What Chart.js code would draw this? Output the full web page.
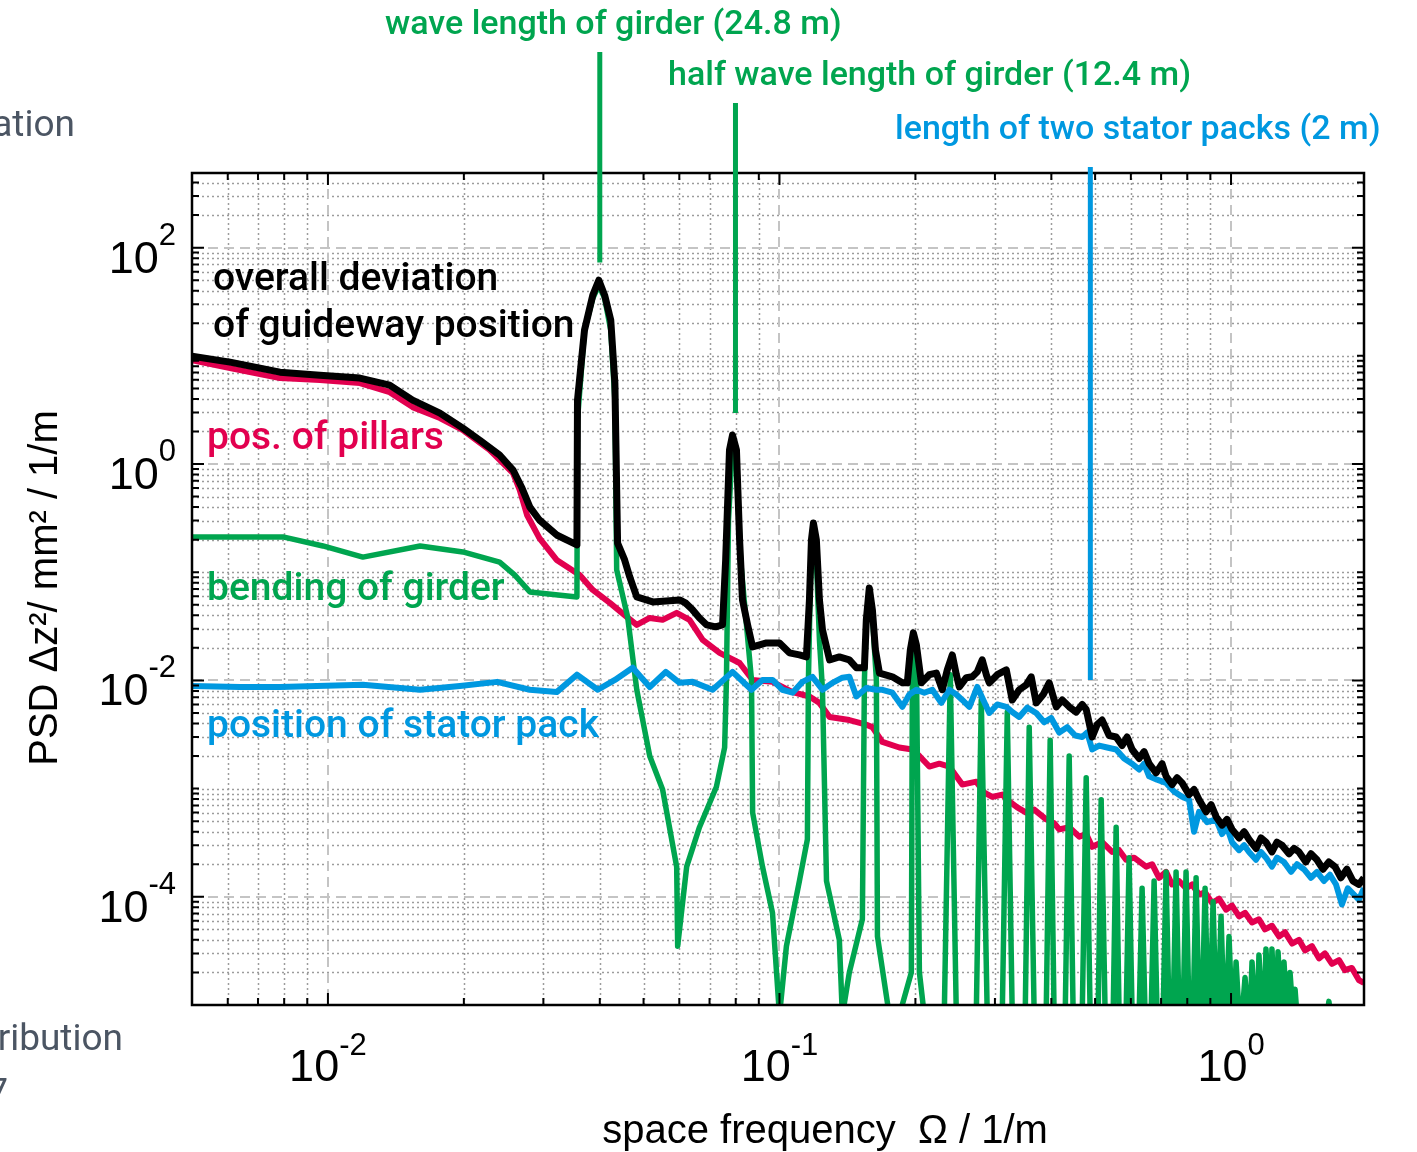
<!DOCTYPE html>
<html>
<head>
<meta charset="utf-8">
<title>PSD of guideway position</title>
<script src="https://cdn.jsdelivr.net/npm/chart.js@4.4.1/dist/chart.umd.min.js"></script>
<style>
  html, body { margin: 0; padding: 0; background: #fff; }
  #box { width: 1417px; height: 1152px; }
</style>
</head>
<body>
<div id="box"><canvas id="psd" width="1417" height="1152"></canvas></div>
<script>
// space frequency in 1/m, PSD in mm^2 / (1/m)
const freqBlack = [0.0050, 0.00607, 0.00783, 0.0096, 0.01177, 0.0137, 0.0154, 0.0177, 0.0199, 0.0217,
  0.0240, 0.0257, 0.0269, 0.0280, 0.0294, 0.0321, 0.0356, 0.0357, 0.0370, 0.0386,
  0.0398, 0.0410, 0.0423, 0.0432, 0.0438, 0.0454, 0.0466, 0.0483, 0.0524, 0.0601,
  0.0619, 0.0642, 0.0665, 0.0690, 0.0722, 0.0748, 0.0760, 0.0775, 0.0787, 0.0803,
  0.0816, 0.0828, 0.0850, 0.0872, 0.0936, 0.1000, 0.1052, 0.1107, 0.1147, 0.1165,
  0.1177, 0.1189, 0.1207, 0.1226, 0.1245, 0.1291, 0.1357, 0.1428, 0.1480, 0.1542,
  0.1557, 0.1581, 0.1606, 0.1631, 0.1665, 0.1778, 0.1871, 0.1919, 0.1949, 0.1979,
  0.2010, 0.2062, 0.2147, 0.2225, 0.2294, 0.2353, 0.2414, 0.2464, 0.2502, 0.2593,
  0.2673, 0.2742, 0.2812, 0.2871, 0.2915, 0.3036, 0.3179, 0.3277, 0.3396, 0.3519,
  0.3610, 0.3703, 0.3837, 0.3956, 0.4101, 0.4228, 0.4381, 0.4541, 0.4682, 0.4778,
  0.4926, 0.5052, 0.5183, 0.5371, 0.5566, 0.5738, 0.5886, 0.6039, 0.6258, 0.6419,
  0.6585, 0.6824, 0.7036, 0.7180, 0.7403, 0.7594, 0.7790, 0.8073, 0.8282, 0.8496,
  0.8805, 0.9032, 0.9265, 0.9552, 0.9798, 1.005, 1.042, 1.069, 1.096, 1.136,
  1.165, 1.195, 1.232, 1.264, 1.297, 1.344, 1.379, 1.414, 1.465, 1.503,
  1.550, 1.598, 1.647, 1.699, 1.751, 1.805, 1.862, 1.919, 1.969];
const psdBlack = [9.94, 8.75, 7.07, 6.63, 6.23, 5.36, 3.90, 2.96, 2.15, 1.66,
  1.21, 0.88, 0.60, 0.40, 0.304, 0.221, 0.179, 3.90, 17.3, 36.4,
  50, 36.4, 21.4, 5.60, 0.186, 0.130, 0.0905, 0.0591, 0.0532, 0.0555,
  0.0521, 0.0449, 0.0378, 0.0326, 0.0313, 0.0326, 0.130, 1.35, 1.85, 1.35,
  0.199, 0.0555, 0.0326, 0.0204, 0.0222, 0.0222, 0.0180, 0.0172, 0.0165, 0.0555,
  0.199, 0.285, 0.199, 0.0555, 0.0293, 0.0155, 0.0165, 0.0155, 0.0131, 0.0131,
  0.0363, 0.0716, 0.0449, 0.0192, 0.0117, 0.0108, 0.0095, 0.0095, 0.0192, 0.0275,
  0.0213, 0.0095, 0.0113, 0.0117, 0.0082, 0.0125, 0.0172, 0.0113, 0.0087, 0.0106,
  0.0108, 0.0120, 0.0155, 0.0113, 0.0095, 0.0113, 0.0125, 0.0066, 0.0082, 0.0091,
  0.0108, 0.0062, 0.0074, 0.0095, 0.0057, 0.0066, 0.0057, 0.0051, 0.0060, 0.0054,
  0.0030, 0.0039, 0.0043, 0.0031, 0.0030, 0.0025, 0.0030, 0.0023, 0.0019, 0.0022,
  0.0017, 0.0014, 0.0017, 0.0013, 0.00109, 0.00126, 0.00113, 0.00088, 0.00098, 0.00079,
  0.00061, 0.00071, 0.00055, 0.00046, 0.00052, 0.00042, 0.00035, 0.00040, 0.00034, 0.00028,
  0.00035, 0.00032, 0.00026, 0.00032, 0.00030, 0.00025, 0.00028, 0.00026, 0.00021, 0.00025,
  0.00022, 0.00018, 0.00021, 0.00019, 0.00015, 0.00018, 0.00014, 0.00013, 0.00015];

const freqRed = [0.0050, 0.00607, 0.00783, 0.0096, 0.01177, 0.0137, 0.0154, 0.0177, 0.0199, 0.0228,
  0.0257, 0.0266, 0.0276, 0.0294, 0.0321, 0.0361, 0.0386, 0.0421, 0.0459, 0.0483,
  0.0516, 0.0551, 0.0592, 0.0632, 0.0676, 0.0737, 0.0816, 0.0872, 0.0965, 0.1069,
  0.1165, 0.1226, 0.1291, 0.1428, 0.1557, 0.1606, 0.1690, 0.1842, 0.1969, 0.2041,
  0.2147, 0.2259, 0.2377, 0.2540, 0.2728, 0.2841, 0.2960, 0.3114, 0.3228, 0.3362,
  0.3519, 0.3665, 0.3896, 0.4057, 0.4164, 0.4381, 0.4611, 0.4778, 0.4926, 0.5183,
  0.5454, 0.5651, 0.5856, 0.6100, 0.6485, 0.6687, 0.6929, 0.7180, 0.7403, 0.7672,
  0.7950, 0.8198, 0.8496, 0.8760, 0.9078, 0.9407, 0.9748, 1.005, 1.042, 1.074,
  1.113, 1.153, 1.189, 1.232, 1.277, 1.317, 1.365, 1.414, 1.458, 1.511,
  1.566, 1.614, 1.673, 1.734, 1.787, 1.852, 1.919, 1.969];
const psdRed = [9.13, 7.70, 6.23, 5.97, 5.60, 4.62, 3.36, 2.66, 2.06, 1.35,
  0.826, 0.575, 0.338, 0.207, 0.130, 0.0944, 0.0686, 0.0521, 0.0387, 0.0326,
  0.0378, 0.0363, 0.0421, 0.0363, 0.0237, 0.0180, 0.0145, 0.0101, 0.0097, 0.0078,
  0.0071, 0.0062, 0.0046, 0.0043, 0.0039, 0.0037, 0.0027, 0.0024, 0.0023, 0.0020,
  0.0016, 0.0017, 0.0016, 0.00109, 0.00116, 0.00092, 0.00084, 0.00088, 0.00076, 0.00067,
  0.00060, 0.00064, 0.00052, 0.00048, 0.00042, 0.00044, 0.00036, 0.00038, 0.00029, 0.00032,
  0.00026, 0.00027, 0.00022, 0.00023, 0.00019, 0.00020, 0.00015, 0.00017, 0.00013, 0.00014,
  0.00012, 0.00013, 0.000105, 0.00011, 0.000088, 0.000096, 0.000076, 0.000083, 0.000066, 0.000071,
  0.000058, 0.000062, 0.000050, 0.000054, 0.000043, 0.000047, 0.000037, 0.000040, 0.000032, 0.000035,
  0.000027, 0.000030, 0.000024, 0.000026, 0.000021, 0.000022, 0.000017, 0.000016];

const freqGreen = [0.0050, 0.00795, 0.00975, 0.01195, 0.0160, 0.0199, 0.0240, 0.0259, 0.0280, 0.0356,
  0.0357, 0.0370, 0.0386, 0.0398, 0.0410, 0.0423, 0.0432, 0.0436, 0.0461, 0.0483,
  0.0516, 0.0551, 0.0592, 0.0595, 0.0623, 0.0665, 0.0725, 0.0756, 0.0763, 0.0771,
  0.0787, 0.0803, 0.0820, 0.0867, 0.0872, 0.0917, 0.0965, 0.1000, 0.1036, 0.1107,
  0.1153, 0.1159, 0.1171, 0.1189, 0.1207, 0.1226, 0.1245, 0.1271, 0.1357, 0.1378,
  0.1428, 0.1526, 0.1542, 0.1557, 0.1581, 0.1606, 0.1639, 0.1648, 0.1751, 0.1842,
  0.1959, 0.1969, 0.1979, 0.2010, 0.2041, 0.2093,
  0.2317, 0.2389, 0.2464, 0.2728, 0.2798, 0.2885, 0.3114, 0.3195, 0.3277,
  0.3501, 0.3573, 0.3665, 0.3896, 0.3976, 0.4057, 0.4293, 0.4381, 0.4471,
  0.4682, 0.4778, 0.4876, 0.5078, 0.5157, 0.5263, 0.5482, 0.5566, 0.5651,
  0.5856, 0.5946, 0.6039, 0.6258, 0.6354, 0.6452, 0.6653, 0.6755, 0.6859,
  0.7072, 0.7180, 0.7291, 0.7441, 0.7556, 0.7672, 0.7830, 0.7950, 0.8073,
  0.8240, 0.8368, 0.8496, 0.8627, 0.8760, 0.8894, 0.8985, 0.9125, 0.9265,
  0.9359, 0.9503, 0.9650, 0.9748, 0.9899, 1.005, 1.015, 1.026, 1.042,
  1.058, 1.074, 1.090, 1.102, 1.113, 1.130, 1.142, 1.153, 1.171,
  1.183, 1.195, 1.214, 1.220, 1.232, 1.251, 1.258, 1.271, 1.290,
  1.297, 1.310, 1.330, 1.337, 1.351, 1.372, 1.379, 1.386, 1.400,
  1.631, 1.647, 1.664, 1.969];
const psdGreen = [0.212, 0.212, 0.175, 0.138, 0.175, 0.154, 0.124, 0.0944, 0.0658, 0.0591,
  2.55, 17.3, 34.1, 44.9, 34.1, 17.3, 3.90, 0.105, 0.0387, 0.0082,
  0.0020, 0.00098, 0.00019, 0.000035, 0.00019, 0.00044, 0.00104, 0.0024, 0.0101, 0.304,
  1.50, 1.09, 0.130, 0.0101, 0.00060, 0.00019, 0.000071, 8e-6, 0.000035, 0.00014,
  0.00034, 0.0101, 0.0849, 0.246, 0.130, 0.0237, 0.0082, 0.00014, 0.000040, 8e-6,
  0.000020, 0.000062, 0.0101, 0.0363, 0.0617, 0.0403, 0.0101, 0.000043, 8e-6, 8e-6,
  0.000020, 0.0101, 0.0237, 0.0155, 0.000020, 8e-6,
  8e-6, 0.0113, 8e-6, 8e-6, 0.0066, 8e-6, 8e-6, 0.0051, 8e-6,
  8e-6, 0.0037, 8e-6, 8e-6, 0.0028, 8e-6, 8e-6, 0.0020, 8e-6,
  8e-6, 0.00126, 8e-6, 8e-6, 0.00079, 8e-6, 8e-6, 0.00044, 8e-6,
  8e-6, 0.00023, 8e-6, 8e-6, 0.00012, 8e-6, 8e-6, 0.00014, 8e-6,
  8e-6, 0.00017, 8e-6, 8e-6, 0.00017, 8e-6, 8e-6, 0.00017, 8e-6,
  8e-6, 0.00015, 8e-6, 8e-6, 0.00012, 8e-6, 8e-6, 0.000090, 8e-6,
  8e-6, 0.000066, 8e-6, 8e-6, 0.000043, 8e-6, 8e-6, 0.000025, 8e-6,
  8e-6, 0.000018, 8e-6, 8e-6, 0.000025, 8e-6, 8e-6, 0.000029, 8e-6,
  8e-6, 0.000033, 8e-6, 8e-6, 0.000033, 8e-6, 8e-6, 0.000031, 8e-6,
  8e-6, 0.000025, 8e-6, 8e-6, 0.000020, 8e-6, 8e-6, 0.000014, 8e-6,
  8e-6, 0.0000108, 8e-6, 8e-6];

const freqBlue = [0.0050, 0.00639, 0.00783, 0.01195, 0.0160, 0.0196, 0.0237, 0.0280, 0.0321, 0.0356,
  0.0396, 0.0432, 0.0473, 0.0516, 0.0560, 0.0601, 0.0642, 0.0711, 0.0787, 0.0867,
  0.0917, 0.0965, 0.1015, 0.1069, 0.1124, 0.1183, 0.1245, 0.1310, 0.1378, 0.1428,
  0.1480, 0.1557, 0.1639, 0.1690, 0.1778, 0.1871, 0.1939, 0.2010, 0.2093, 0.2180,
  0.2282, 0.2377, 0.2464, 0.2540, 0.2633, 0.2742, 0.2827, 0.2915, 0.3036, 0.3179,
  0.3277, 0.3396, 0.3537, 0.3703, 0.3857, 0.3996, 0.4164, 0.4337, 0.4518, 0.4682,
  0.4802, 0.4926, 0.5105, 0.5317, 0.5566, 0.5797, 0.6039, 0.6258, 0.6419, 0.6585,
  0.6859, 0.7180, 0.7479, 0.7790, 0.8073, 0.8282, 0.8496, 0.8850, 0.9265, 0.9552,
  0.9798, 1.005, 1.042, 1.069, 1.096, 1.136, 1.165, 1.195, 1.232, 1.264,
  1.310, 1.358, 1.400, 1.450, 1.503, 1.550, 1.606, 1.656, 1.708, 1.760,
  1.814, 1.871, 1.919, 1.969];
const psdBlue = [0.0089, 0.0087, 0.0087, 0.0091, 0.0082, 0.0089, 0.0097, 0.0082, 0.0078, 0.0113,
  0.0082, 0.0101, 0.0131, 0.0087, 0.0120, 0.0095, 0.0097, 0.0082, 0.0120, 0.0082,
  0.0101, 0.0101, 0.0082, 0.0077, 0.0097, 0.0108, 0.0082, 0.0095, 0.0106, 0.0108,
  0.0071, 0.0085, 0.0082, 0.0082, 0.0077, 0.0057, 0.0074, 0.0082, 0.0077, 0.0082,
  0.0062, 0.0082, 0.0074, 0.0066, 0.0057, 0.0087, 0.0066, 0.0050, 0.0060, 0.0057,
  0.0051, 0.0046, 0.0056, 0.0050, 0.0041, 0.0045, 0.0033, 0.0037, 0.0031, 0.0030,
  0.0033, 0.0023, 0.0025, 0.0024, 0.0023, 0.0019, 0.0017, 0.0015, 0.0017, 0.0013,
  0.00121, 0.00113, 0.00094, 0.00084, 0.00079, 0.00040, 0.00061, 0.00049, 0.00052, 0.00038,
  0.00044, 0.00032, 0.00027, 0.00030, 0.00026, 0.00022, 0.00026, 0.00023, 0.00019, 0.00023,
  0.00021, 0.00017, 0.00020, 0.00018, 0.00015, 0.00017, 0.00014, 0.00016, 0.00013, 0.000085,
  0.00012, 0.000105, 0.000094, 0.00012];

// axes
const X_MIN = 0.005, X_MAX = 1.97;
const Y_MIN = 1e-5, Y_MAX = 490;
const xDecades = [0.001, 0.01, 0.1, 1];
const yDecades = [1e-5, 1e-4, 1e-3, 1e-2, 0.1, 1, 10, 100];
const minorSteps = [1, 2, 3, 4, 5, 6, 7, 8, 9];
const xLabelTicks = [0.01, 0.1, 1];
const xLabelExp = ['-2', '-1', '0'];
const yLabelTicks = [1e-4, 1e-2, 1, 100];
const yLabelExp = ['-4', '-2', '0', '2'];

// marker lines: wave length of girder, half wave length, two stator packs
const markerFreq = [0.0400, 0.0799, 0.488];
const markerEndPsd = [73, 2.96, 0.0101];

const GREEN = '#00a54f', RED = '#e2004f', BLUE = '#0098e0', SLIDE = '#4b5563';
const markerColor = [GREEN, GREEN, BLUE];
const markerTop = [52, 103, 167];

function points(fs, vs) { return fs.map((f, i) => ({ x: f, y: vs[i] })); }

function logTicks(decades, lo, hi) {
  const out = [];
  decades.forEach(d => minorSteps.forEach(s => {
    const v = d * s;
    if (v > lo * 1.0001 && v < hi * 0.9999) out.push(v);
  }));
  return out;
}
const isIn = (list, v) => list.some(t => Math.abs(t - v) / t < 1e-6);

const xTicks = logTicks(xDecades, X_MIN, X_MAX);
const yTicks = logTicks(yDecades, Y_MIN, Y_MAX);

function powLabel(ctx, exp, x, baseY, expY, align) {
  ctx.font = '45px "Liberation Sans", Arial, sans-serif';
  const wb = ctx.measureText('10').width;
  ctx.font = '31px "Liberation Sans", Arial, sans-serif';
  const we = ctx.measureText(exp).width;
  const left = align === 'right' ? x - wb - we : x - (wb + we) / 2;
  ctx.textAlign = 'left';
  ctx.font = '45px "Liberation Sans", Arial, sans-serif';
  ctx.fillText('10', left, baseY);
  ctx.font = '31px "Liberation Sans", Arial, sans-serif';
  ctx.fillText(exp, left + wb, expY);
}

function label(ctx, str, x, y, font, color, align) {
  ctx.font = font;
  ctx.fillStyle = color;
  ctx.textAlign = align || 'left';
  ctx.fillText(str, x, y);
}

const matlabAxes = {
  id: 'matlabAxes',
  beforeDatasetsDraw(chart) {
    const { ctx, chartArea: a, scales: { x, y } } = chart;
    ctx.save();
    // minor grid, dotted
    ctx.strokeStyle = '#9c9c9c';
    ctx.lineWidth = 1.5;
    ctx.setLineDash([2, 3]);
    ctx.beginPath();
    xTicks.filter(v => !isIn(xLabelTicks, v)).forEach(v => {
      const p = Math.round(x.getPixelForValue(v)) + 0.5;
      ctx.moveTo(p, a.top); ctx.lineTo(p, a.bottom);
    });
    yTicks.filter(v => !isIn(yLabelTicks, v)).forEach(v => {
      const p = Math.round(y.getPixelForValue(v)) + 0.5;
      ctx.moveTo(a.left, p); ctx.lineTo(a.right, p);
    });
    ctx.stroke();
    // major grid, dashed
    ctx.strokeStyle = '#c4c4c4';
    ctx.lineWidth = 2;
    ctx.setLineDash([10, 6]);
    ctx.beginPath();
    xLabelTicks.forEach(v => {
      const p = Math.round(x.getPixelForValue(v));
      ctx.moveTo(p, a.top); ctx.lineTo(p, a.bottom);
    });
    yLabelTicks.forEach(v => {
      const p = Math.round(y.getPixelForValue(v));
      ctx.moveTo(a.left, p); ctx.lineTo(a.right, p);
    });
    ctx.stroke();
    ctx.restore();
  },
  afterDatasetsDraw(chart) {
    const { ctx, chartArea: a, scales: { x, y } } = chart;
    ctx.save();
    ctx.setLineDash([]);
    ctx.strokeStyle = '#000';
    // inward tick marks on all four sides
    ctx.lineWidth = 2;
    ctx.beginPath();
    xTicks.forEach(v => {
      const p = x.getPixelForValue(v), len = isIn(xLabelTicks, v) ? 12 : 7;
      ctx.moveTo(p, a.bottom); ctx.lineTo(p, a.bottom - len);
      ctx.moveTo(p, a.top); ctx.lineTo(p, a.top + len);
    });
    yTicks.forEach(v => {
      const p = y.getPixelForValue(v), len = isIn(yLabelTicks, v) ? 12 : 7;
      ctx.moveTo(a.left, p); ctx.lineTo(a.left + len, p);
      ctx.moveTo(a.right, p); ctx.lineTo(a.right - len, p);
    });
    ctx.stroke();
    ctx.lineWidth = 2.5;
    ctx.strokeRect(a.left, a.top, a.right - a.left, a.bottom - a.top);

    // tick labels
    ctx.fillStyle = '#000';
    ctx.textBaseline = 'alphabetic';
    xLabelTicks.forEach((v, i) => powLabel(ctx, xLabelExp[i], x.getPixelForValue(v), 1081, 1055, 'center'));
    yLabelTicks.forEach((v, i) => {
      const p = y.getPixelForValue(v);
      powLabel(ctx, yLabelExp[i], 176, p + 25, p - 3, 'right');
    });

    // axis titles
    label(ctx, 'space frequency  \u03A9 / 1/m', 825, 1143, '40px "Liberation Sans", Arial, sans-serif', '#000', 'center');
    ctx.save();
    ctx.translate(57, 588);
    ctx.rotate(-Math.PI / 2);
    label(ctx, 'PSD \u0394z\u00B2/ mm\u00B2 / 1/m', 0, 0, '40px "Liberation Sans", Arial, sans-serif', '#000', 'center');
    ctx.restore();

    // curve names
    const nameFont = '500 39px Roboto, "Noto Sans", sans-serif';
    label(ctx, 'overall deviation', 213, 290, nameFont, '#000');
    label(ctx, 'of guideway position', 213, 337, nameFont, '#000');
    label(ctx, 'pos. of pillars', 207, 449, nameFont, RED);
    label(ctx, 'bending of girder', 207, 600, nameFont, GREEN);
    label(ctx, 'position of stator pack', 207, 737, nameFont, BLUE);

    // wave length markers
    const noteFont = '500 34px Roboto, "Noto Sans", sans-serif';
    label(ctx, 'wave length of girder (24.8 m)', 385, 34, noteFont, GREEN);
    label(ctx, 'half wave length of girder (12.4 m)', 668, 85, noteFont, GREEN);
    label(ctx, 'length of two stator packs (2 m)', 895, 139, noteFont, BLUE);
    ctx.lineWidth = 5;
    markerFreq.forEach((f, i) => {
      const p = x.getPixelForValue(f);
      ctx.strokeStyle = markerColor[i];
      ctx.beginPath();
      ctx.moveTo(p, markerTop[i]);
      ctx.lineTo(p, y.getPixelForValue(markerEndPsd[i]));
      ctx.stroke();
    });

    // slide text cut off at the left edge
    const slideFont = '37px Roboto, "Noto Sans", sans-serif';
    label(ctx, 'ation', 75, 136, slideFont, SLIDE, 'right');
    label(ctx, 'ribution', 123, 1050, slideFont, SLIDE, 'right');
    label(ctx, '7', 8, 1104, slideFont, SLIDE, 'right');
    ctx.restore();
  }
};

const line = (name, fs, vs, color, width) => ({
  label: name,
  data: points(fs, vs),
  borderColor: color,
  borderWidth: width,
  borderJoinStyle: 'round',
  pointRadius: 0,
  tension: 0,
  clip: 0,
  fill: false
});

new Chart(document.getElementById('psd'), {
  type: 'line',
  data: {
    datasets: [
      line('overall deviation of guideway position', freqBlack, psdBlack, '#000', 7),
      line('position of stator pack', freqBlue, psdBlue, BLUE, 6),
      line('bending of girder', freqGreen, psdGreen, GREEN, 5.5),
      line('pos. of pillars', freqRed, psdRed, RED, 6)
    ]
  },
  options: {
    responsive: false,
    animation: false,
    devicePixelRatio: 1,
    events: [],
    layout: { padding: { left: 192, top: 173, right: 53, bottom: 147 } },
    plugins: { legend: { display: false }, tooltip: { enabled: false } },
    scales: {
      x: { type: 'logarithmic', min: X_MIN, max: X_MAX, display: false },
      y: { type: 'logarithmic', min: Y_MIN, max: Y_MAX, display: false }
    }
  },
  plugins: [matlabAxes]
});
</script>
</body>
</html>
